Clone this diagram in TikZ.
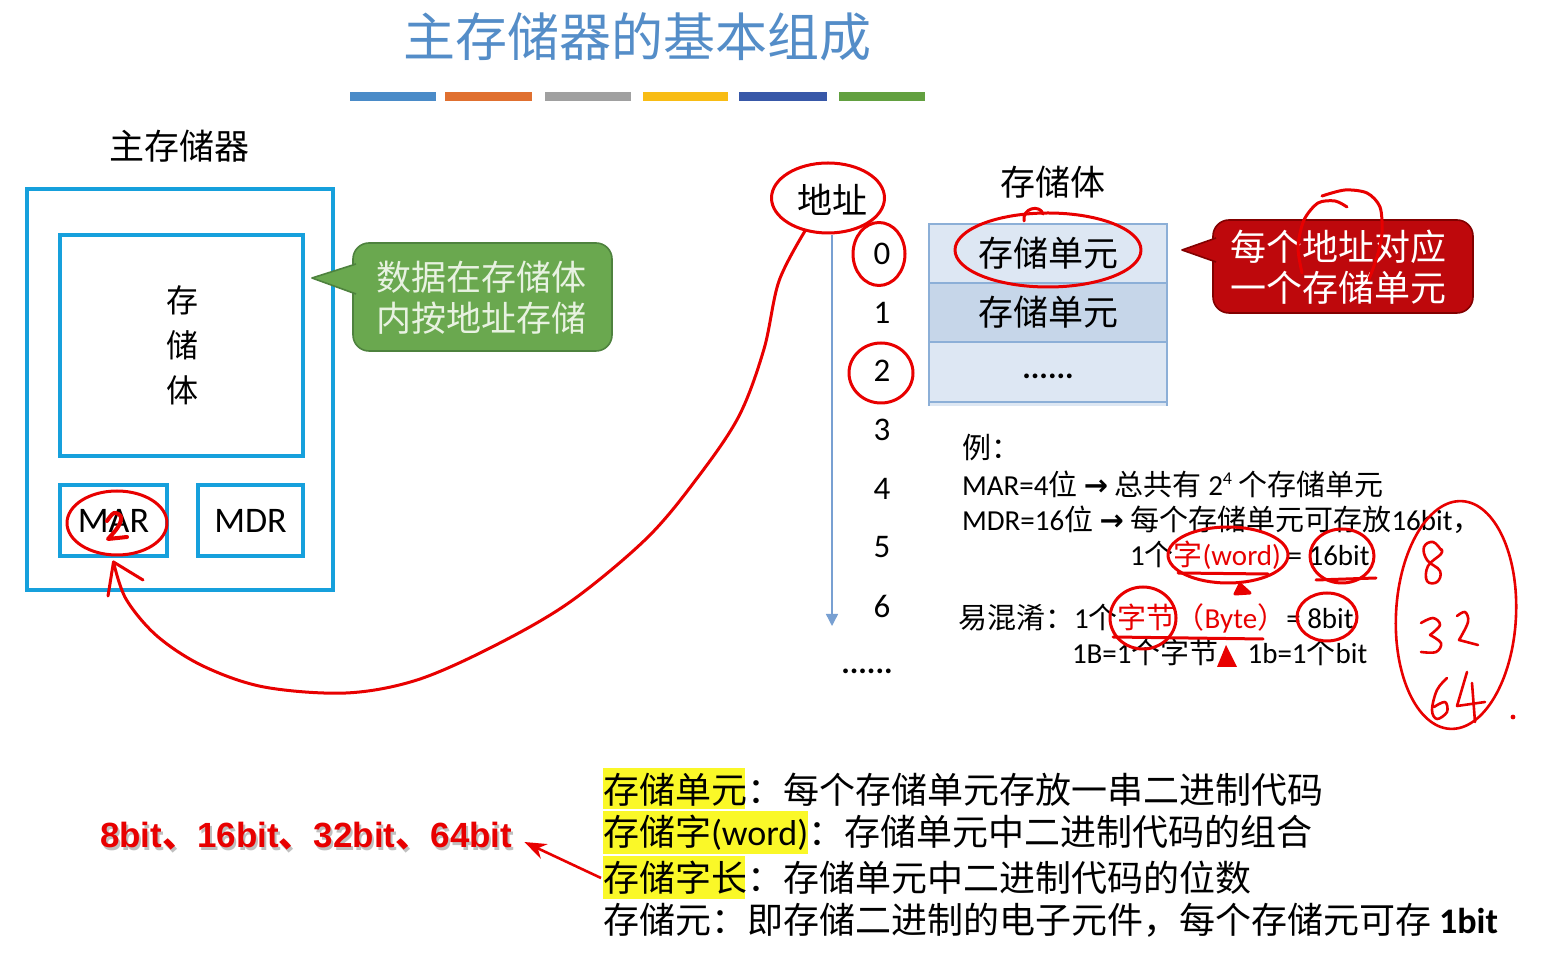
\documentclass[tikz,border=0pt]{standalone}
\usepackage{fontspec}
\setmainfont{Noto Sans CJK SC}
\newfontfamily\lat{Carlito}
\newfontfamily\latb{Liberation Sans}
\newfontfamily\sym{DejaVu Sans}
\usetikzlibrary{shapes.geometric,arrows.meta,calc}

\newcommand\fsz[1]{\fontsize{#1}{#1}\selectfont}

\definecolor{titleblue}{RGB}{84,141,200}
\definecolor{frameblue}{RGB}{22,160,220}
\definecolor{callgreen}{RGB}{106,168,79}
\definecolor{callgreenedge}{RGB}{78,130,62}
\definecolor{greentext}{RGB}{232,242,225}
\definecolor{callred}{RGB}{190,8,12}
\definecolor{callrededge}{RGB}{130,0,0}
\definecolor{inkred}{RGB}{232,0,0}
\definecolor{celllight}{RGB}{221,231,243}
\definecolor{celldark}{RGB}{198,214,233}
\definecolor{celledge}{RGB}{140,175,215}
\definecolor{axisblue}{RGB}{120,160,210}
\definecolor{hl}{RGB}{250,248,40}
\definecolor{barA}{RGB}{74,139,200}
\definecolor{barB}{RGB}{224,112,48}
\definecolor{barC}{RGB}{160,160,160}
\definecolor{barD}{RGB}{248,188,20}
\definecolor{barE}{RGB}{56,88,168}
\definecolor{barF}{RGB}{98,160,64}

\tikzset{
  hand/.style={draw=inkred, line width=1.5pt, line cap=round, line join=round},
  ring/.style={ellipse, hand, inner sep=0pt},
  blueframe/.style={draw=frameblue, line width=2pt},
  cellbox/.style={draw=celledge, line width=0.8pt, minimum width=119pt, font=\fsz{17.5}},
  defline/.style={anchor=west, font=\fsz{18}},
  exline/.style={anchor=west, font=\fsz{14.5}},
}

\begin{document}
\begin{tikzpicture}[x=0.5pt, y=-0.5pt, every node/.style={inner sep=0pt, outer sep=0pt}]
\useasboundingbox (0,0) rectangle (1559,961);
\fill[white] (0,0) rectangle (1559,961);

% heading and colour bar
\node[font=\fsz{26}, text=titleblue] (title) at (637,37) {主存储器的基本组成};
\fill[barA] (350,92.5) rectangle (436,101.5);
\fill[barB] (445,92.5) rectangle (532,101.5);
\fill[barC] (545,92.5) rectangle (631,101.5);
\fill[barD] (643,92.5) rectangle (728,101.5);
\fill[barE] (739,92.5) rectangle (827,101.5);
\fill[barF] (839,92.5) rectangle (925,101.5);

% main memory block
\node[font=\fsz{17.5}] (mainlabel) at (179,146) {主存储器};
\node[blueframe, minimum width=153pt, minimum height=200.5pt] (mainmem) at (180,389.5) {};
\node[blueframe, minimum width=121.5pt, minimum height=110.5pt] (bank) at (181.5,345.5) {};
\node[font=\fontsize{16}{22.5}\selectfont, align=center] (banktext) at (182,345) {存\\储\\体};
\node[blueframe, minimum width=53.5pt, minimum height=35.5pt, font=\lat\fsz{18}] (mar) at (113.5,520.5) {MAR};
\node[blueframe, minimum width=52.5pt, minimum height=35.5pt, font=\lat\fsz{18}] (mdr) at (250.5,520.5) {MDR};

% green callout
\node[fill=callgreen, draw=callgreenedge, line width=0.8pt, rounded corners=8pt,
      minimum width=129.5pt, minimum height=54pt] (gbody) at (482.5,297) {};
\filldraw[fill=callgreen, draw=callgreenedge, line width=0.8pt, line join=round]
  (356,264) -- (312,278) -- (356,294);
\node[font=\fontsize{17.5}{20.5}\selectfont, text=greentext, align=center] (gtext) at (481,297.5)
  {数据在存储体\\内按地址存储};

% address column
\node[font=\fsz{17.5}] (addr) at (832,200) {地址};
\coordinate (axtop) at (832,235);
\coordinate (axbot) at (832,626);
\draw[axisblue, line width=0.7pt, -{Triangle[length=6pt,width=6pt]}] (axtop) -- (axbot);
\foreach \n/\yy in {0/254,1/313,2/371,3/430,4/489,5/547,6/606}
  \node[font=\lat\fsz{16.5}] (num\n) at (882,\yy) {\n};
\node[font=\lat\bfseries\fsz{16}] (numdots) at (867,671) {......};

% storage cells
\node[font=\fsz{17.5}] (bodylabel) at (1053,182) {存储体};
\node[cellbox, fill=celllight, minimum height=29.5pt] (cell0) at (1048,253.5) {存储单元};
\node[cellbox, fill=celldark, minimum height=29.5pt] (cell1) at (1048,312.5) {存储单元};
\node[cellbox, fill=celllight, minimum height=30pt] (cell2) at (1048,372) {};
\node[font=\lat\bfseries\fsz{16}] (celldots) at (1048,376) {......};
\fill[celllight] (929,402) rectangle (1167,406);
\draw[celledge, line width=0.8pt] (929,406) -- (929,402) -- (1167,402) -- (1167,406);

% red callout
\node[fill=callred, draw=callrededge, line width=0.8pt, rounded corners=8pt,
      minimum width=130pt, minimum height=46.5pt] (rbody) at (1343,266.5) {};
\filldraw[fill=callred, draw=callrededge, line width=0.8pt, line join=round]
  (1216,238) -- (1182,250) -- (1216,262);
\node[font=\fontsize{18}{20.5}\selectfont, text=white, align=center] (rtext) at (1338,267.5)
  {每个地址对应\\一个存储单元};

% worked example
\node[exline] (ex0) at (962,448) {例：};
\node[exline] (ex1) at (962,484) {{\lat MAR=4}位 {\sym\bfseries →} 总共有 {\lat 2\raisebox{0.8ex}{\fsz{9}4}} 个存储单元};
\node[exline] (ex2) at (962,520) {{\lat MDR=16}位 {\sym\bfseries →} 每个存储单元可存放{\lat 16bit}，};
\node[exline] (ex3) at (1130,555) {{\lat 1}个\textcolor{inkred}{字{\lat (word)}}{\lat\ = 16bit}};
\node[exline] (ex4) at (958,618) {易混淆：{\lat 1}个\textcolor{inkred}{字节（{\lat Byte}）}{\lat = 8bit}};
\node[exline] (ex5) at (1072,653) {{\lat 1B=1}个字节，{\lat 1b=1}个{\lat bit}};

% definitions
\fill[hl] (603,768) rectangle (745,809);
\fill[hl] (603,811) rectangle (808,854);
\fill[hl] (603,856) rectangle (745,899);
\node[defline] (def1) at (603,790) {存储单元：每个存储单元存放一串二进制代码};
\node[defline] (def2) at (603,833) {存储字{\lat (word)}：存储单元中二进制代码的组合};
\node[defline] (def3) at (603,878) {存储字长：存储单元中二进制代码的位数};
\node[defline] (def4) at (603,920) {存储元：即存储二进制的电子元件，每个存储元可存 {\lat\bfseries 1bit}};

% word sizes in red
\node[anchor=west, font=\latb\bfseries\fsz{17.5}, text=black!25] (sizesshadow) at (102,839)
  {8bit{\normalfont\bfseries 、}16bit{\normalfont\bfseries 、}32bit{\normalfont\bfseries 、}64bit};
\node[anchor=west, font=\latb\bfseries\fsz{17.5}, text=inkred] (sizes) at (100,836)
  {8bit{\normalfont\bfseries 、}16bit{\normalfont\bfseries 、}32bit{\normalfont\bfseries 、}64bit};
\draw[draw=inkred, line width=1.3pt, -{Stealth[length=11pt,width=8pt]}]
  ([xshift=-1pt]def3.west) -- ([xshift=6pt,yshift=-3pt]sizes.east);

% pen marks
\node[ring, minimum width=56.5pt, minimum height=35pt] (addrring) at (828,198) {};
\node[ring, minimum width=26pt, minimum height=31.5pt] (ring0) at (879,254) {};
\node[ring, minimum width=32pt, minimum height=30pt] (ring2) at (881,373) {};
\node[ring, minimum width=93pt, minimum height=37pt] (cellring) at (1048,250) {};
\draw[hand] (1024,221) .. controls (1022,208) and (1040,204) .. (1043,214);
\node[ring, minimum width=50pt, minimum height=32pt] (marring) at (117,523) {};
% pen-written "2" over MAR
\draw[hand, line width=2pt] plot[smooth, tension=0.6] coordinates {(107,521) (114,513) (121,517) (118,527) (108,539)}
  -- (127,537);
\draw[hand] plot[smooth, tension=0.55] coordinates {(addrring.235) (779,281) (764,349) (739,416)
  (698,477) (647,538) (570,602) (494,646) (417,680) (346,693) (264,687) (203,666) (157,636)
  (126,599) ([yshift=-3pt]mar.south)};
\draw[hand] (108,596) -- ([yshift=-3pt]mar.south) -- (143,580);

\draw[hand] plot[smooth] coordinates {(1347,207) (1335,201) (1318,203) (1304,220) (1298,247) (1302,273)};
\draw[hand] plot[smooth] coordinates {(1322,196) (1345,190) (1367,193) (1380,207) (1382,233) (1377,257) (1369,279)};

\node[ring, minimum width=60pt, minimum height=28pt] (wordring) at (1228,555) {};
\draw[hand] (1178,573) -- (1268,574);
\draw[hand, fill=inkred] (1240,584) -- (1235,594) -- (1250,593) -- cycle;
\node[ring, minimum width=32pt, minimum height=27pt] (ring16) at (1342,556) {};
\draw[hand] (1316,580) -- (1376,578);
\node[ring, minimum width=33pt, minimum height=31pt] (bytering) at (1143,618) {};
\draw[hand] (1113,637) -- (1263,639);
\fill[inkred] (1217,667) -- (1226,645) -- (1237,667) -- cycle;
\node[ring, minimum width=30pt, minimum height=24pt] (ring8) at (1327,617) {};

% pen-written 8, 32, 64 inside a loop
\draw[hand, line width=1.3pt] plot[smooth, tension=0.7] coordinates {(1441,550) (1433,542) (1424,547)
  (1427,560) (1440,571) (1437,582) (1427,581) (1428,566) (1441,554) (1441,549)};
\draw[hand, line width=1.3pt] plot[smooth, tension=0.6] coordinates {(1421,623) (1433,618) (1440,625)
  (1430,635)};
\draw[hand, line width=1.3pt] plot[smooth, tension=0.6] coordinates {(1430,635) (1441,643) (1436,652) (1421,652)};
\draw[hand, line width=1.3pt] plot[smooth, tension=0.6] coordinates {(1457,616) (1465,612) (1468,622)
  (1459,640)} -- (1478,645);
\draw[hand, line width=1.3pt] plot[smooth, tension=0.6] coordinates {(1447,678) (1437,690) (1432,710)
  (1437,719) (1447,712) (1445,702) (1434,707)};
\draw[hand, line width=1.3pt] (1467,672) -- (1457,706) -- (1485,702);
\draw[hand, line width=1.3pt] (1472,683) -- (1475,722);
\node[ring, line width=1.3pt, minimum width=60pt, minimum height=114pt, rotate=-3] (hwring) at (1456,615) {};
\fill[inkred] (1513,717) circle[radius=1.2pt];
\end{tikzpicture}
\end{document}
